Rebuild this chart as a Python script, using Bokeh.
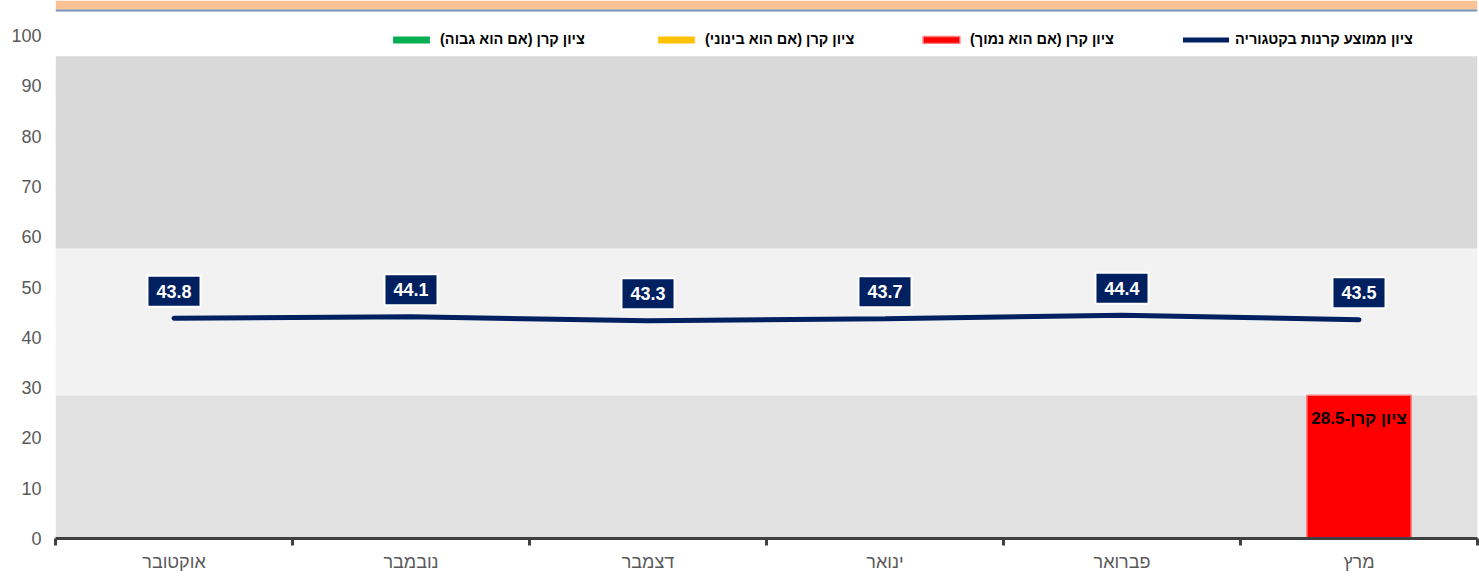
from bokeh.plotting import figure
from bokeh.models import (Range1d, LinearAxis, FixedTicker,
                          BoxAnnotation, Legend, LegendItem, ColumnDataSource)
from bokeh.core.properties import value
from bokeh.embed import file_html
from bokeh.resources import INLINE

# ---------------- data ----------------
months = ["אוקטובר", "נובמבר", "דצמבר", "ינואר", "פברואר", "מרץ"]
avg_scores = [43.8, 44.1, 43.3, 43.7, 44.4, 43.5]
fund_months = ["מרץ"]
fund_scores = [28.5]
fund_prefix = "ציון קרן-"
y_ticks = [0, 10, 20, 30, 40, 50, 60, 70, 80, 90, 100]
band_edges = [0, 28.5, 57.7, 95.9]
legend_labels = [
    "ציון קרן (אם הוא גבוה)\u200f",
    "ציון קרן (אם הוא בינוני)\u200f",
    "ציון קרן (אם הוא נמוך)\u200f",
    "ציון ממוצע קרנות בקטגוריה",
]

FONT = "Liberation Sans"
NAVY = "#002060"
Y_END = 107.0
PX = 538.0 / Y_END  # pixels per unit

# category centres / boundaries (index based)
xc = [i + 0.5 for i in range(len(months))]
xb = list(range(len(months) + 1))
fund_x = [months.index(m) + 0.5 for m in fund_months]

p = figure(width=1479, height=584,
           x_range=Range1d(0, len(months)),
           y_range=Range1d(0, Y_END),
           x_axis_location=None, y_axis_location="left",
           toolbar_location=None, output_backend="svg", title=None,
           min_border_left=55, min_border_right=2, min_border_top=0, min_border_bottom=46)
p.outline_line_color = None
p.background_fill_color = "white"
p.border_fill_color = "white"
p.ygrid.grid_line_color = None
p.xgrid.grid_line_color = None

# background bands
band_colors = ["#e1e1e1", "#f2f2f2", "#d9d9d9"]
for i, c in enumerate(band_colors):
    p.add_layout(BoxAnnotation(bottom=band_edges[i], top=band_edges[i + 1],
                               fill_color=c, fill_alpha=1, line_color=None, level="underlay"))

# top orange strip
p.add_layout(BoxAnnotation(bottom=Y_END - 9 / PX, fill_color="#fbc393", fill_alpha=1,
                           line_color=None, level="underlay"))
p.add_layout(BoxAnnotation(bottom=Y_END - 11 / PX, top=Y_END - 9 / PX, fill_color="#7890b4",
                           fill_alpha=1, line_color=None, level="underlay"))

# y axis
yax = p.yaxis[0]
yax.ticker = FixedTicker(ticks=y_ticks)
yax.axis_line_color = None
yax.major_tick_line_color = None
yax.minor_tick_line_color = None
yax.major_tick_in = 0
yax.major_tick_out = 0
yax.major_label_standoff = 14
yax.major_label_text_font = FONT
yax.major_label_text_font_size = "18px"
yax.major_label_text_color = "#595959"

# x axis: labels at centres, tick marks at category boundaries (minor ticks)
xax = LinearAxis(ticker=FixedTicker(ticks=xc, minor_ticks=xb),
                 major_label_overrides={x: m for x, m in zip(xc, months)},
                 axis_line_color="#404040", axis_line_width=3,
                 major_tick_line_color=None, major_tick_in=0, major_tick_out=0,
                 minor_tick_line_color="#404040", minor_tick_line_width=3,
                 minor_tick_in=0, minor_tick_out=7,
                 major_label_standoff=6,
                 major_label_text_font=FONT, major_label_text_font_size="18px",
                 major_label_text_color="#595959")
p.add_layout(xax, "below")

# fund score bars
nan = float("nan")
r_high = p.vbar(x=[nan], top=[nan], width=0.44, fill_color="#00b050", line_color=None)
r_mid = p.vbar(x=[nan], top=[nan], width=0.44, fill_color="#ffc000", line_color=None)
r_low = p.vbar(x=fund_x, top=fund_scores, bottom=0, width=0.44,
               fill_color="#ff0000", line_color="#ff7c80", line_width=1.5)
p.text(x=fund_x, y=[v - 23 / PX for v in fund_scores],
       text=[fund_prefix + f"{v:.1f}" for v in fund_scores],
       text_font=value(FONT), text_font_size="17px", text_font_style="bold",
       text_color="black", text_align="center", text_baseline="middle")

# category average line
r_line = p.line(x=xc, y=avg_scores, line_color=NAVY, line_width=5, line_cap="round")
src = ColumnDataSource(dict(x=xc, y=[v + 27 / PX for v in avg_scores],
                            t=[f"{v:.1f}" for v in avg_scores]))
p.text(x="x", y="y", text="t", source=src,
       text_font=value(FONT), text_font_size="18px", text_font_style="bold",
       text_color="white", text_align="center", text_baseline="middle",
       background_fill_color=NAVY, border_line_color="white", border_line_width=2,
       padding=(9, 9))

legend = Legend(items=[LegendItem(label=value(legend_labels[0]), renderers=[r_high]),
                       LegendItem(label=value(legend_labels[1]), renderers=[r_mid]),
                       LegendItem(label=value(legend_labels[2]), renderers=[r_low]),
                       LegendItem(label=value(legend_labels[3]), renderers=[r_line])],
                location=(333, 491), orientation="horizontal",
                glyph_width=46, glyph_height=9, label_standoff=6, label_width=200,
                spacing=13, padding=0, margin=0,
                background_fill_alpha=0, border_line_color=None,
                label_text_font=FONT, label_text_font_size="14.5px",
                label_text_font_style="bold", label_text_color="black")
p.add_layout(legend)

open("out.html", "w").write(file_html(p, INLINE))
